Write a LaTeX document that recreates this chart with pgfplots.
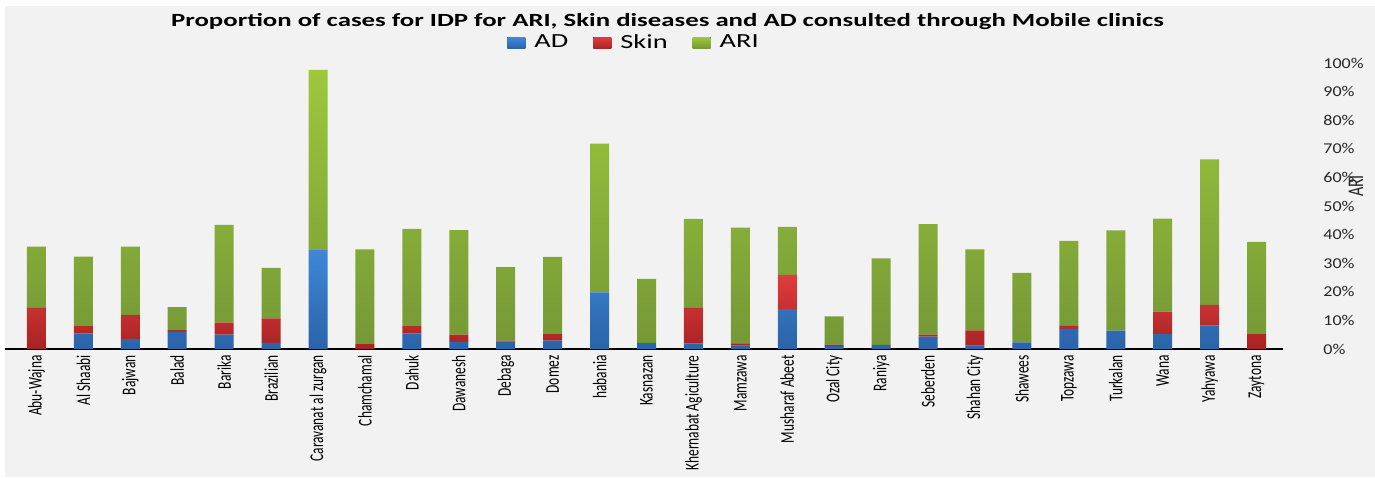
\documentclass[border=0pt]{standalone}
\usepackage{pgfplots}
\pgfplotsset{compat=1.18}
\usepackage{fontspec}
\setmainfont{Carlito}
\newfontfamily\titlefont[FakeStretch=1.44]{Carlito}
\newfontfamily\legfont[FakeStretch=1.42]{Carlito}
\newfontfamily\tickfont[FakeStretch=1.2]{Carlito}

\definecolor{bg}{HTML}{F2F2F2}
\definecolor{baseline}{HTML}{DADADA}
\definecolor{adTop}{HTML}{3D88D8}
\definecolor{adBot}{HTML}{2B63A8}
\definecolor{skTop}{HTML}{E03C3C}
\definecolor{skBot}{HTML}{A82222}
\definecolor{arTop}{HTML}{9DC83C}
\definecolor{arBot}{HTML}{759836}

% one pixel of the layout grid
\newcommand{\px}{0.5pt}

\begin{document}
\begin{tikzpicture}[x=\px, y=\px]
  % page and chart background
  \fill[white] (0,0) rectangle (1375,477);
  \fill[bg] (5,0) rectangle (1375,471);
  \path[use as bounding box] (0,0) rectangle (1375,477);
  % baseline under the bars
  \draw[baseline, line width=0.8pt] (5,128) -- (1283,128);

  \begin{axis}[
    at={(6.5pt,64pt)}, anchor=south west,
    scale only axis,
    width=633.5pt, height=143pt,
    ybar stacked,
    bar width=9.5pt,
    xmin=-0.5, xmax=26.5,
    ymin=0, ymax=100,
    axis x line*=bottom,
    axis y line*=right,
    x axis line style={draw=none},
    y axis line style={draw=none},
    major tick length=0pt,
    xtick=data,
    xticklabels={Abu-Wajna, Al Shaabi, Bajwan, Balad, Barika, Brazilian,
      Caravanat al zurgan, Chamchamal, Dahuk, Dawanesh, Debaga, Domez,
      habania, Kasnazan, Khernabat Agiculture, Mamzawa, Musharaf Abeet,
      Ozal City, Raniya, Seberden, Shahan City, Shawees, Topzawa, Turkalan,
      Wana, Yahyawa, Zaytona},
    xticklabel style={yshift=-3pt, xscale=1.45, rotate=90, anchor=east,
      inner sep=0pt, font=\fontsize{6.7pt}{7pt}\selectfont, text=black},
    ytick={0,10,...,100},
    yticklabel={\pgfmathprintnumber{\tick}\%},
    /pgf/number format/assume math mode=true,
    yticklabel style={font=\tickfont\fontsize{7.5pt}{8pt}\selectfont,
      text=black!85, anchor=west, inner sep=0pt, xshift=21.5pt},
    legend style={at={(axis description cs:0.3899,1.070)}, anchor=west,
      draw=none, fill=none, inner sep=0pt,
      font=\legfont\fontsize{10pt}{11pt}\selectfont,
      legend columns=-1,
      /tikz/every even column/.append style={column sep=10.5pt}},
    legend image code/.code={\fill[#1] (0pt,-2.75pt) rectangle (9pt,2.75pt);},
    every axis plot/.append style={draw=none},
  ]
    % AD
    \addplot[top color=adTop, bottom color=adBot] coordinates {
      (0,0) (1,5.5) (2,3.5) (3,5.9) (4,5.0) (5,2.1) (6,34.6) (7,0) (8,5.5)
      (9,2.4) (10,2.6) (11,2.9) (12,19.8) (13,2.1) (14,2.0) (15,1.2)
      (16,13.9) (17,1.0) (18,1.4) (19,4.3) (20,1.2) (21,2.3) (22,7.0)
      (23,6.4) (24,5.2) (25,8.2) (26,0)};
    % Skin
    \addplot[top color=skTop, bottom color=skBot] coordinates {
      (0,14.4) (1,2.5) (2,8.4) (3,0.7) (4,4.2) (5,8.6) (6,0) (7,1.7) (8,2.5)
      (9,2.6) (10,0.3) (11,2.3) (12,0) (13,0) (14,12.4) (15,0.8) (16,12.0)
      (17,0.5) (18,0) (19,0.7) (20,5.3) (21,0) (22,1.3) (23,0) (24,7.9)
      (25,7.2) (26,5.2)};
    % ARI
    \addplot[top color=arTop, bottom color=arBot] coordinates {
      (0,21.4) (1,24.3) (2,23.9) (3,8.0) (4,34.2) (5,17.7) (6,63.0)
      (7,33.1) (8,34.0) (9,36.6) (10,25.7) (11,27.0) (12,52.0) (13,22.4)
      (14,31.1) (15,40.4) (16,16.8) (17,9.9) (18,30.3) (19,38.7) (20,28.3)
      (21,24.3) (22,29.5) (23,35.1) (24,32.5) (25,50.9) (26,32.3)};
    \legend{\hspace{2.5pt}AD, \hspace{2.5pt}Skin, \hspace{2.5pt}ARI}
  \end{axis}

  \node[font=\titlefont\bfseries\fontsize{9.3pt}{10pt}\selectfont, anchor=base]
    at (667.5,450.3)
    {Proportion of cases for IDP for ARI, Skin diseases and AD consulted through Mobile clinics};
  \node[font=\fontsize{8pt}{9pt}\selectfont, text=black!85, xscale=1.4, rotate=90]
    at (1356,291) {ARI};
\end{tikzpicture}
\end{document}
